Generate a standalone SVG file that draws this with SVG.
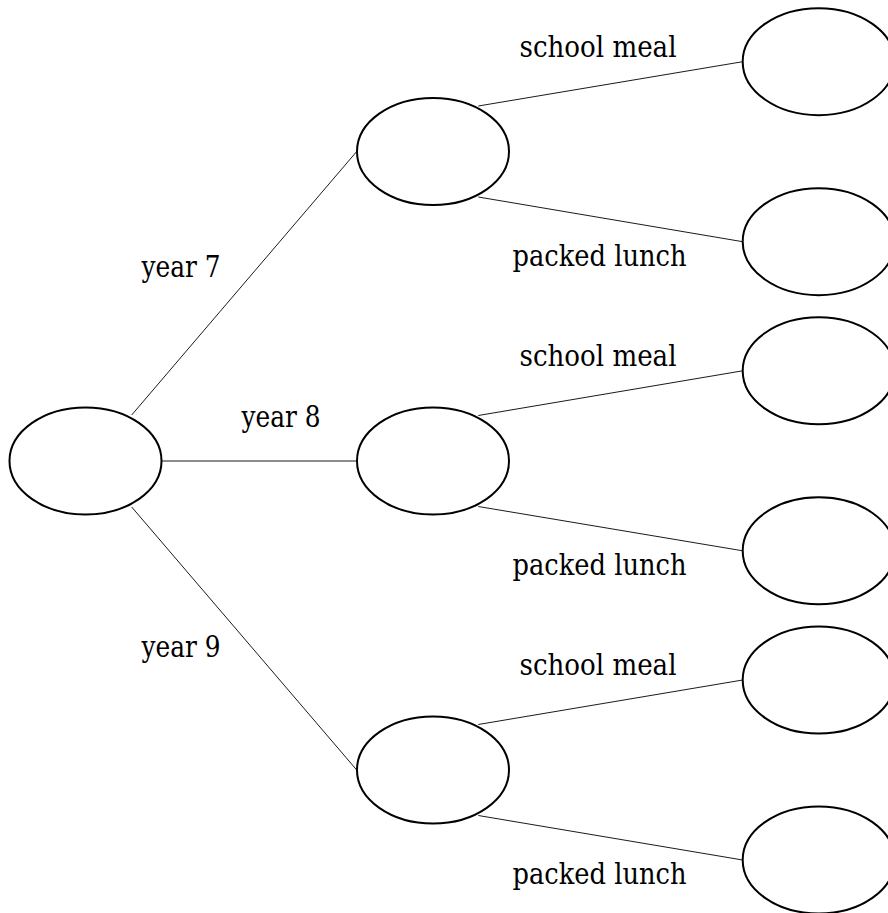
<svg xmlns="http://www.w3.org/2000/svg" width="888" height="913" viewBox="0 0 888 913">
<style>
.n{fill:#fff;stroke:#000;stroke-width:2}
.e{stroke:#000;stroke-width:0.9;fill:none}
.t{font-family:'DejaVu Serif','Liberation Serif',serif;font-size:29px;fill:#000;text-anchor:middle}
</style>
<rect width="888" height="913" fill="#fff"/>
<g id="edges">
<line class="e" x1="131.7" y1="415" x2="356.7" y2="151.5"/>
<line class="e" x1="161.5" y1="461" x2="356.7" y2="461"/>
<line class="e" x1="131.7" y1="507" x2="356.7" y2="770"/>
<line class="e" x1="478.3" y1="106" x2="742.7" y2="61.7"/>
<line class="e" x1="478.3" y1="197" x2="742.7" y2="241.7"/>
<line class="e" x1="478.3" y1="415.5" x2="742.7" y2="370.8"/>
<line class="e" x1="478.3" y1="506.5" x2="742.7" y2="550.8"/>
<line class="e" x1="478.3" y1="724.5" x2="742.7" y2="680"/>
<line class="e" x1="478.3" y1="815.5" x2="742.7" y2="860"/>
</g>
<g id="labels">
<text class="t" x="181" y="277" textLength="79" lengthAdjust="spacingAndGlyphs">year 7</text>
<text class="t" x="281" y="427" textLength="79" lengthAdjust="spacingAndGlyphs">year 8</text>
<text class="t" x="181" y="657" textLength="79" lengthAdjust="spacingAndGlyphs">year 9</text>
<text class="t" x="598" y="57" textLength="157" lengthAdjust="spacingAndGlyphs">school meal</text>
<text class="t" x="599.5" y="266" textLength="174" lengthAdjust="spacingAndGlyphs">packed lunch</text>
<text class="t" x="598" y="366" textLength="157" lengthAdjust="spacingAndGlyphs">school meal</text>
<text class="t" x="599.5" y="575" textLength="174" lengthAdjust="spacingAndGlyphs">packed lunch</text>
<text class="t" x="598" y="675" textLength="157" lengthAdjust="spacingAndGlyphs">school meal</text>
<text class="t" x="599.5" y="884" textLength="174" lengthAdjust="spacingAndGlyphs">packed lunch</text>
</g>
<g id="root"><ellipse class="n" cx="85.5" cy="461" rx="76" ry="53.5"/></g>
<g id="y7"><ellipse class="n" cx="433" cy="151.5" rx="76" ry="53.5"/></g>
<g id="y8"><ellipse class="n" cx="433" cy="461" rx="76" ry="53.5"/></g>
<g id="y9"><ellipse class="n" cx="433" cy="770" rx="76" ry="53.5"/></g>
<g id="y7s"><ellipse class="n" cx="818.7" cy="61.7" rx="76" ry="53.5"/></g>
<g id="y7p"><ellipse class="n" cx="818.7" cy="241.7" rx="76" ry="53.5"/></g>
<g id="y8s"><ellipse class="n" cx="818.7" cy="370.8" rx="76" ry="53.5"/></g>
<g id="y8p"><ellipse class="n" cx="818.7" cy="550.8" rx="76" ry="53.5"/></g>
<g id="y9s"><ellipse class="n" cx="818.7" cy="680" rx="76" ry="53.5"/></g>
<g id="y9p"><ellipse class="n" cx="818.7" cy="860" rx="76" ry="53.5"/></g>
</svg>
